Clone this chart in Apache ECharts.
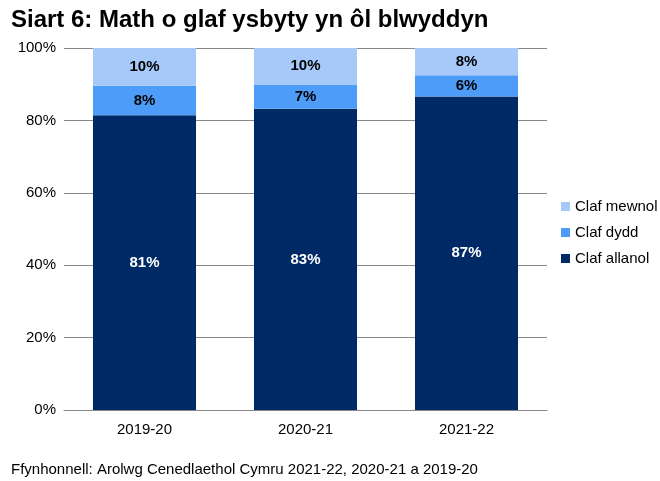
<!DOCTYPE html><html><head><meta charset="utf-8"><script src="https://cdn.jsdelivr.net/npm/echarts@6/dist/echarts.min.js"></script></head><body style="margin:0"><div id="c" style="width:660px;height:481px"></div><script>
const categories=['2019-20','2020-21','2021-22'];
const allanol=[81.4,83.2,86.6];
const dydd=[8.2,6.7,5.9];
const mewnol=[10.4,10.1,7.5];
const F='Liberation Sans, Arial, sans-serif';
const lbl=c=>({show:true,color:c,fontWeight:'bold',fontSize:15,fontFamily:F,formatter:p=>Math.round(p.value)+'%'});
const ch=echarts.init(document.getElementById('c'));
ch.setOption({animation:false,
title:[{text:'Siart 6: Math o glaf ysbyty yn ôl blwyddyn',left:6,top:3,textStyle:{fontFamily:F,fontSize:24,fontWeight:'bold',color:'#000'}},
{text:'Ffynhonnell: Arolwg Cenedlaethol Cymru 2021-22, 2020-21 a 2019-20',left:6,top:457,textStyle:{fontFamily:F,fontSize:15,fontWeight:'normal',color:'#000'}}],
grid:{left:64,right:113,top:48,bottom:71},
legend:{orient:'vertical',left:556,top:194,itemWidth:9,itemHeight:9,itemGap:11,icon:'rect',textStyle:{fontFamily:F,fontSize:15,color:'#000'},data:['Claf mewnol','Claf dydd','Claf allanol']},
xAxis:{type:'category',data:categories,axisTick:{show:false},axisLine:{lineStyle:{color:'#888'}},axisLabel:{color:'#000',fontFamily:F,fontSize:15,margin:12}},
yAxis:{type:'value',min:0,max:100,interval:20,axisLabel:{formatter:'{value}%',color:'#000',fontFamily:F,fontSize:15},splitLine:{lineStyle:{color:'#888'}}},
series:[
{name:'Claf allanol',type:'bar',stack:'a',barWidth:'64%',data:allanol,itemStyle:{color:'#002a66'},label:lbl('#fff')},
{name:'Claf dydd',type:'bar',stack:'a',data:dydd,itemStyle:{color:'#4d9cf8'},label:lbl('#000')},
{name:'Claf mewnol',type:'bar',stack:'a',data:mewnol,itemStyle:{color:'#a6c9f9'},label:lbl('#000')}]});
</script></body></html>
